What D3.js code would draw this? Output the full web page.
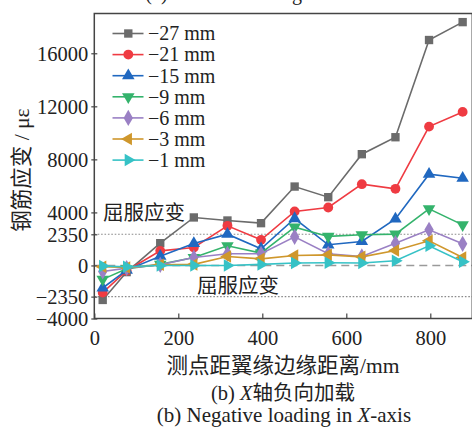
<!DOCTYPE html>
<html>
<head>
<meta charset="utf-8">
<script src="https://cdn.jsdelivr.net/npm/d3@7"></script>
<style>
  html, body { margin: 0; padding: 0; background: #fff; }
  svg { display: block; }
  text { font-family: "Liberation Serif", "Noto Sans CJK SC", serif; fill: #222; }
</style>
</head>
<body>
<svg id="chart" width="472" height="427"></svg>
<script>
// Measuring-point distance from flange edge (mm)
const positions = [20, 77, 157, 237, 317, 397, 477, 557, 637, 717, 797, 877];

// Rebar strain (με) for each loading displacement level
const series27 = [-2600, -500, 1680, 3620, 3390, 3190, 5950, 5150, 8390, 9670, 17000, 18350];
const series21 = [-2050, -400, 1100, 1360, 2990, 1930, 4070, 4370, 6130, 5780, 10470, 11580];
const series15 = [-1700, -350, 700, 1660, 2360, 1260, 3540, 1560, 1810, 3510, 6880, 6580];
const series9  = [-1050, -250, 80, 600, 1480, 930, 2890, 2190, 2310, 2360, 4270, 3060];
const series6  = [-450, -200, 50, 600, 880, 880, 2160, 880, 680, 1680, 2690, 1630];
const series3  = [-100, -150, 50, 80, 680, 500, 750, 800, 650, 1130, 1860, 600];
const series1  = [-50, -100, 0, 0, 0, 80, 180, 200, 180, 350, 1480, 280];

const seriesNames = ["\u221227 mm", "\u221221 mm", "\u221215 mm", "\u22129 mm", "\u22126 mm", "\u22123 mm", "\u22121 mm"];
const seriesValues = [series27, series21, series15, series9, series6, series3, series1];
const seriesColors = ["#6b6b6b", "#ef3b42", "#2068c0", "#34b36c", "#9a80c4", "#cf972c", "#36c2c6"];
const seriesShapes = ["square", "circle", "up", "down", "diamond", "left", "right"];

const yTicks = [-4000, -2350, 0, 2350, 4000, 8000, 12000, 16000];
const xTicks = [0, 200, 400, 600, 800];
const yieldStrain = 2350;

const svg = d3.select("#chart");
const plotLeft = 94.3, plotRight = 472.3, plotTop = 13.5, plotBottom = 318.5;

const x = d3.scaleLinear().domain([0, 900]).range([plotLeft, plotRight]);
const y = d3.scaleLinear().domain([-4000, 19000]).range([plotBottom, plotTop]);

// Reference lines: yield strain (dotted) and zero (dashed)
svg.selectAll("line.yield").data([yieldStrain, -yieldStrain]).enter().append("line")
  .attr("x1", plotLeft).attr("x2", plotRight)
  .attr("y1", d => y(d)).attr("y2", d => y(d))
  .attr("stroke", "#8a8a8a").attr("stroke-width", 1.1).attr("stroke-dasharray", "1.6,1.8");
svg.append("line")
  .attr("x1", plotLeft).attr("x2", plotRight).attr("y1", y(0)).attr("y2", y(0))
  .attr("stroke", "#9a9a9a").attr("stroke-width", 1.6).attr("stroke-dasharray", "8,5");

// Frame
svg.append("rect").attr("x", plotLeft).attr("y", plotTop)
  .attr("width", plotRight - plotLeft).attr("height", plotBottom - plotTop)
  .attr("fill", "none").attr("stroke", "#444").attr("stroke-width", 1.5);

// Y axis
const yAxis = svg.append("g").attr("transform", `translate(${plotLeft},0)`)
  .call(d3.axisLeft(y).tickValues(yTicks).tickSize(4).tickPadding(2)
    .tickFormat(d => d < 0 ? "\u2212" + Math.abs(d) : String(d)));
yAxis.select(".domain").remove();
yAxis.selectAll(".tick line").attr("stroke", "#444").attr("stroke-width", 1.2).attr("x2", 3).attr("x1", -3);
yAxis.selectAll(".tick text").attr("font-size", 20.5).attr("fill", "#222")
  .style("font-family", "'Liberation Serif', serif").attr("dy", "0.34em");

// X axis (ticks pointing inward)
const xAxis = svg.append("g").attr("transform", `translate(0,${plotBottom})`)
  .call(d3.axisBottom(x).tickValues(xTicks).tickSize(-5).tickPadding(12));
xAxis.select(".domain").remove();
xAxis.selectAll(".tick line").attr("stroke", "#444").attr("stroke-width", 1.2);
xAxis.selectAll(".tick text").attr("font-size", 20.5).attr("fill", "#222")
  .style("font-family", "'Liberation Serif', serif");

// Marker symbols
function marker(g, shape, color) {
  let size = 70, rot = 0, type = d3.symbolSquare;
  if (shape === "circle") { type = d3.symbolCircle; size = 76; }
  if (shape === "up") { type = d3.symbolTriangle; size = 68; }
  if (shape === "down") { type = d3.symbolTriangle; size = 68; rot = 180; }
  if (shape === "left") { type = d3.symbolTriangle; size = 68; rot = -90; }
  if (shape === "right") { type = d3.symbolTriangle; size = 68; rot = 90; }
  if (shape === "diamond") { type = d3.symbolDiamond; size = 76; }
  g.append("path").attr("d", d3.symbol().type(type).size(size)())
    .attr("transform", `rotate(${rot})`)
    .attr("fill", color);
}

const line = d3.line().x((d, i) => x(positions[i])).y(d => y(d));

seriesValues.forEach((vals, s) => {
  const g = svg.append("g");
  g.append("path").datum(vals).attr("d", line)
    .attr("fill", "none").attr("stroke", seriesColors[s]).attr("stroke-width", 1.6);
  vals.forEach((v, i) => {
    const m = g.append("g").attr("transform", `translate(${x(positions[i])},${y(v)})`);
    marker(m, seriesShapes[s], seriesColors[s]);
  });
});

// Legend
const legend = svg.append("g");
seriesNames.forEach((name, s) => {
  const ly = 33.5 + s * 21.1;
  legend.append("line").attr("x1", 112.5).attr("x2", 143.5).attr("y1", ly).attr("y2", ly)
    .attr("stroke", seriesColors[s]).attr("stroke-width", 1.6);
  const m = legend.append("g").attr("transform", `translate(128.3,${ly})`);
  marker(m, seriesShapes[s], seriesColors[s]);
  legend.append("text").attr("x", 148).attr("y", ly).attr("dy", "0.34em")
    .attr("font-size", 20).text(name);
});

// Yield strain annotations
svg.append("text").attr("x", 103).attr("y", 220).attr("font-size", 20.5).text("屈服应变");
svg.append("text").attr("x", 197).attr("y", 292.5).attr("font-size", 20.5).text("屈服应变");

// Axis titles
svg.append("text").attr("transform", "translate(29,170) rotate(-90)")
  .attr("text-anchor", "middle").attr("font-size", 21.5).text("钢筋应变 / με");
svg.append("text").attr("x", 283).attr("y", 373).attr("text-anchor", "middle")
  .attr("font-size", 21.5).text("测点距翼缘边缘距离/mm");

// Captions
const cap1 = svg.append("text").attr("x", 283).attr("y", 400).attr("text-anchor", "middle").attr("font-size", 20.5);
cap1.append("tspan").text("(b) ");
cap1.append("tspan").attr("font-style", "italic").text("X");
cap1.append("tspan").text("轴负向加载");
const cap2 = svg.append("text").attr("x", 284).attr("y", 422).attr("text-anchor", "middle").attr("font-size", 21);
cap2.append("tspan").text("(b) Negative loading in ");
cap2.append("tspan").attr("font-style", "italic").text("X");
cap2.append("tspan").text("-axis");

// Caption of the panel above, cut by the top edge
const cap0 = svg.append("text").attr("x", 262).attr("y", 0).attr("text-anchor", "middle")
  .attr("font-size", 20).attr("fill", "#555");
cap0.append("tspan").text("(a) Positive loading in ");
cap0.append("tspan").attr("font-style", "italic").text("X");
cap0.append("tspan").text("-axis");
</script>
</body>
</html>
